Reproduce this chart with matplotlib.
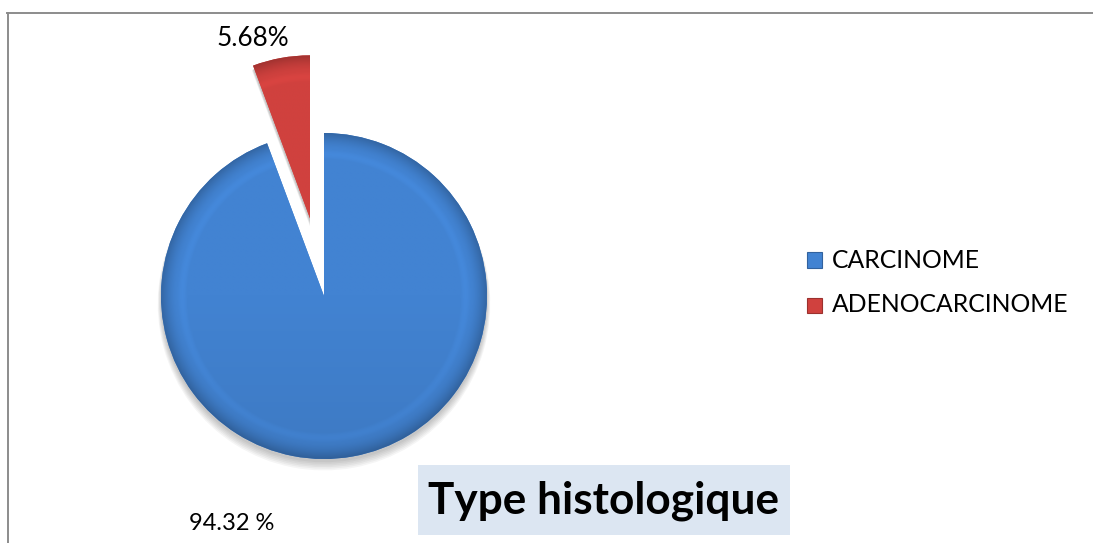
import numpy as np
import matplotlib
matplotlib.use("Agg")
import matplotlib.pyplot as plt
from matplotlib.patches import Rectangle, Wedge
from matplotlib.lines import Line2D
import matplotlib.colors as mcolors

# Data
categories = ["CARCINOME", "ADENOCARCINOME"]
percentages = [94.32, 5.68]
label_texts = [f"{percentages[0]:.2f} %", f"{percentages[1]:.2f}%"]
title_text = "Type histologique"

colors = ["#4283D2", "#D0413E"]
explode = [0.0, 0.484]

plt.rcParams["font.family"] = ["Lato", "DejaVu Sans"]

W, H = 1093, 543
fig = plt.figure(figsize=(W / 100, H / 100), dpi=100)
fig.patch.set_facecolor("white")

# Outer frame: top and left edges only
fig.add_artist(Line2D([7 / W, 1.0], [1 - 13 / H, 1 - 13 / H], transform=fig.transFigure,
                      color="#8c8c8c", lw=1.4))
fig.add_artist(Line2D([8 / W, 8 / W], [0.0, 1 - 13 / H], transform=fig.transFigure,
                      color="#8c8c8c", lw=1.4))

# Pie axes, sized in pixels so that radius 1 maps to R pixels
cx, cy, R, half = 324, 296, 163, 260
ax = fig.add_axes([(cx - half) / W, (H - cy - half) / H, 2 * half / W, 2 * half / H])
lim = half / R

wedges, _ = ax.pie(percentages, colors=colors, startangle=90, counterclock=False,
                   explode=explode, radius=1.0,
                   wedgeprops=dict(linewidth=0, zorder=1))
ax.set_xlim(-lim, lim)
ax.set_ylim(-lim, lim)
ax.set_aspect("equal")
ax.axis("off")

# soft drop shadow under each wedge
for w in wedges:
    for k in range(6):
        ax.add_patch(Wedge((w.center[0], w.center[1] - 0.02 - 0.006 * k), w.r + 0.004 * k,
                           w.theta1, w.theta2, color="black", alpha=0.04, lw=0, zorder=0))

# bevel shading: darker toward the rim of each wedge
n = 600
xs = np.linspace(-lim, lim, n)
ys = np.linspace(-lim, lim, n)
X, Y = np.meshgrid(xs, ys)
for w, c in zip(wedges, colors):
    ox, oy = w.center
    r = np.hypot(X - ox, Y - oy)
    base = np.array(mcolors.to_rgb(c))
    f = np.ones_like(r)
    f = np.where(r > 0.90, 1.0 - 0.22 * np.clip((r - 0.90) / 0.10, 0, 1) ** 1.5, f)
    f = np.where((r > 0.84) & (r <= 0.90), 1.0 + 0.04 * np.sin((r - 0.84) / 0.06 * np.pi), f)
    f = f * (1.0 - 0.07 * (-(Y - oy)).clip(0, 1))
    rgb = np.clip(base[None, None, :] * f[..., None], 0, 1)
    im = ax.imshow(rgb, extent=(-lim, lim, -lim, lim), origin="lower",
                   interpolation="bilinear", zorder=2)
    im.set_clip_path(w)
ax.set_xlim(-lim, lim)
ax.set_ylim(-lim, lim)

# value labels
fig.text(253 / W, 1 - 38 / H, label_texts[1], fontsize=18.8, ha="center", va="center")
fig.text(232 / W, 1 - 523 / H, label_texts[0], fontsize=17, ha="center", va="center")

# legend
for i, (cat, c) in enumerate(zip(categories, colors)):
    yc = 260 + 45 * i
    sq = Rectangle((807 / W, 1 - (yc + 7.5) / H), 15 / W, 15 / H, transform=fig.transFigure,
                   facecolor=c, edgecolor=mcolors.to_hex(np.array(mcolors.to_rgb(c)) * 0.75),
                   lw=0.8)
    fig.add_artist(sq)
    fig.text(832 / W, 1 - yc / H, cat, fontsize=17.8, ha="left", va="center")

# title box
fig.add_artist(Rectangle((418 / W, 1 - 535 / H), 372 / W, 70 / H, transform=fig.transFigure,
                         facecolor="#DCE6F2", edgecolor="none"))
fig.text(603 / W, 1 - 501 / H, title_text, fontsize=31.8, fontweight="bold",
         ha="center", va="center")

fig.savefig("out.png", dpi=100, facecolor="white")
